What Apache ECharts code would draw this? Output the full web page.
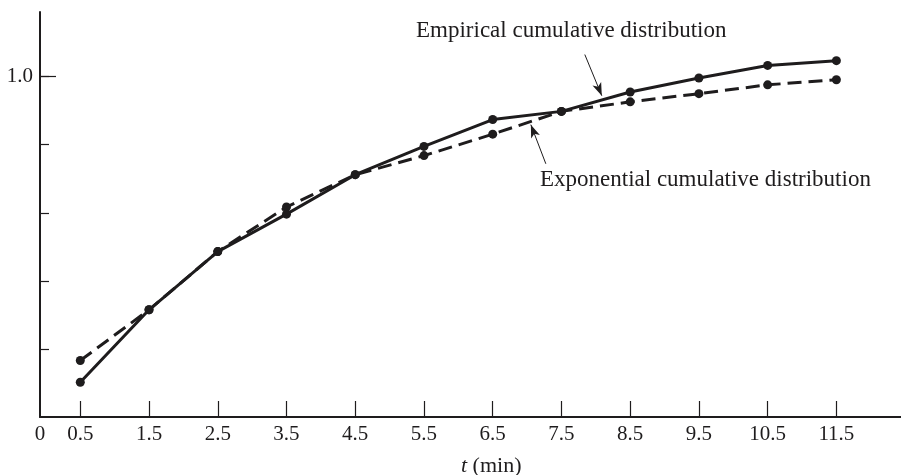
<!DOCTYPE html>
<html lang="en">
<head>
  <meta charset="UTF-8">
  <title>Cumulative distributions</title>
  <style>
    html, body { margin: 0; padding: 0; background: #fff; }
    #main { width: 901px; height: 475px; }
  </style>
</head>
<body>
  <div id="main"></div>
  <script src="https://cdn.jsdelivr.net/npm/echarts@6/dist/echarts.min.js"></script>
  <script>
    // t (min) at the middle of each class
    const times = [0.5, 1.5, 2.5, 3.5, 4.5, 5.5, 6.5, 7.5, 8.5, 9.5, 10.5, 11.5];
    const empirical = [0.102, 0.315, 0.486, 0.596, 0.712, 0.795, 0.874, 0.898, 0.955, 0.996, 1.033, 1.047];
    const exponential = [0.166, 0.315, 0.486, 0.617, 0.712, 0.768, 0.831, 0.898, 0.926, 0.950, 0.976, 0.991];
    const yTicks = [0.2, 0.4, 0.6, 0.8, 1.0];
    const yLabels = [1.0];

    const xMin = -0.086, xMax = 12.44;
    const yMin = 0, yMax = 1.19;
    const ink = '#1e1c1d';
    const serif = '"Liberation Serif", "DejaVu Serif", serif';

    const chart = echarts.init(document.getElementById('main'));

    chart.setOption({
      animation: false,
      backgroundColor: '#fff',
      grid: { left: 40, right: 0, top: 12, bottom: 58 },
      xAxis: {
        type: 'value', min: xMin, max: xMax,
        axisLine: { onZero: false, lineStyle: { color: ink, width: 2 } },
        axisTick: { show: true, inside: true, length: 16, customValues: times, lineStyle: { color: ink, width: 1.2 } },
        axisLabel: {
          customValues: [xMin].concat(times),
          formatter: v => (v < 0 ? '0' : v.toFixed(1)),
          color: ink, fontFamily: serif, fontSize: 21, margin: 7
        },
        splitLine: { show: false }
      },
      yAxis: [{
        type: 'value', min: yMin, max: yMax,
        axisLine: { show: true, onZero: false, lineStyle: { color: ink, width: 2 } },
        axisTick: { show: true, inside: true, length: 9, customValues: yTicks, lineStyle: { color: ink, width: 1.2 } },
        axisLabel: {
          customValues: yLabels,
          formatter: v => v.toFixed(1),
          color: ink, fontFamily: serif, fontSize: 21, margin: 7
        },
        splitLine: { show: false }
      }, {
        // longer tick for the labelled 1.0
        type: 'value', min: yMin, max: yMax, position: 'left',
        axisLine: { show: false, onZero: false },
        axisTick: { show: true, inside: true, length: 16, customValues: yLabels, lineStyle: { color: ink, width: 1.2 } },
        axisLabel: { show: false },
        splitLine: { show: false }
      }],
      series: [{
        name: 'Empirical cumulative distribution',
        type: 'line',
        data: times.map((t, i) => [t, empirical[i]]),
        symbol: 'circle', symbolSize: 9,
        itemStyle: { color: ink },
        lineStyle: { color: ink, width: 3 },
        z: 3,
        markLine: {
          silent: true,
          symbol: ['none', 'arrow'],
          symbolSize: [7, 13],
          label: { show: false },
          lineStyle: { color: ink, width: 1, type: 'solid' },
          data: [
            [{ coord: [7.840, 1.065] }, { coord: [8.087, 0.944] }],
            [{ coord: [7.273, 0.744] }, { coord: [7.055, 0.859] }]
          ]
        }
      }, {
        name: 'Exponential cumulative distribution',
        type: 'line',
        data: times.map((t, i) => [t, exponential[i]]),
        symbol: 'circle', symbolSize: 9,
        itemStyle: { color: ink },
        lineStyle: { color: ink, width: 3, type: [14, 7] },
        z: 2
      }],
      graphic: [{
        type: 'text',
        style: { x: 416, y: 31, text: 'Empirical cumulative distribution', font: '23px ' + serif, fill: ink, verticalAlign: 'middle' }
      }, {
        type: 'text',
        style: { x: 540, y: 180, text: 'Exponential cumulative distribution', font: '23px ' + serif, fill: ink, verticalAlign: 'middle' }
      }, {
        type: 'text',
        style: {
          x: 461, y: 466, text: '{i|t} (min)', font: '22px ' + serif, fill: ink, verticalAlign: 'middle',
          rich: { i: { fontStyle: 'italic', fontFamily: serif, fontSize: 22, fill: ink } }
        }
      }]
    });
  </script>
</body>
</html>
